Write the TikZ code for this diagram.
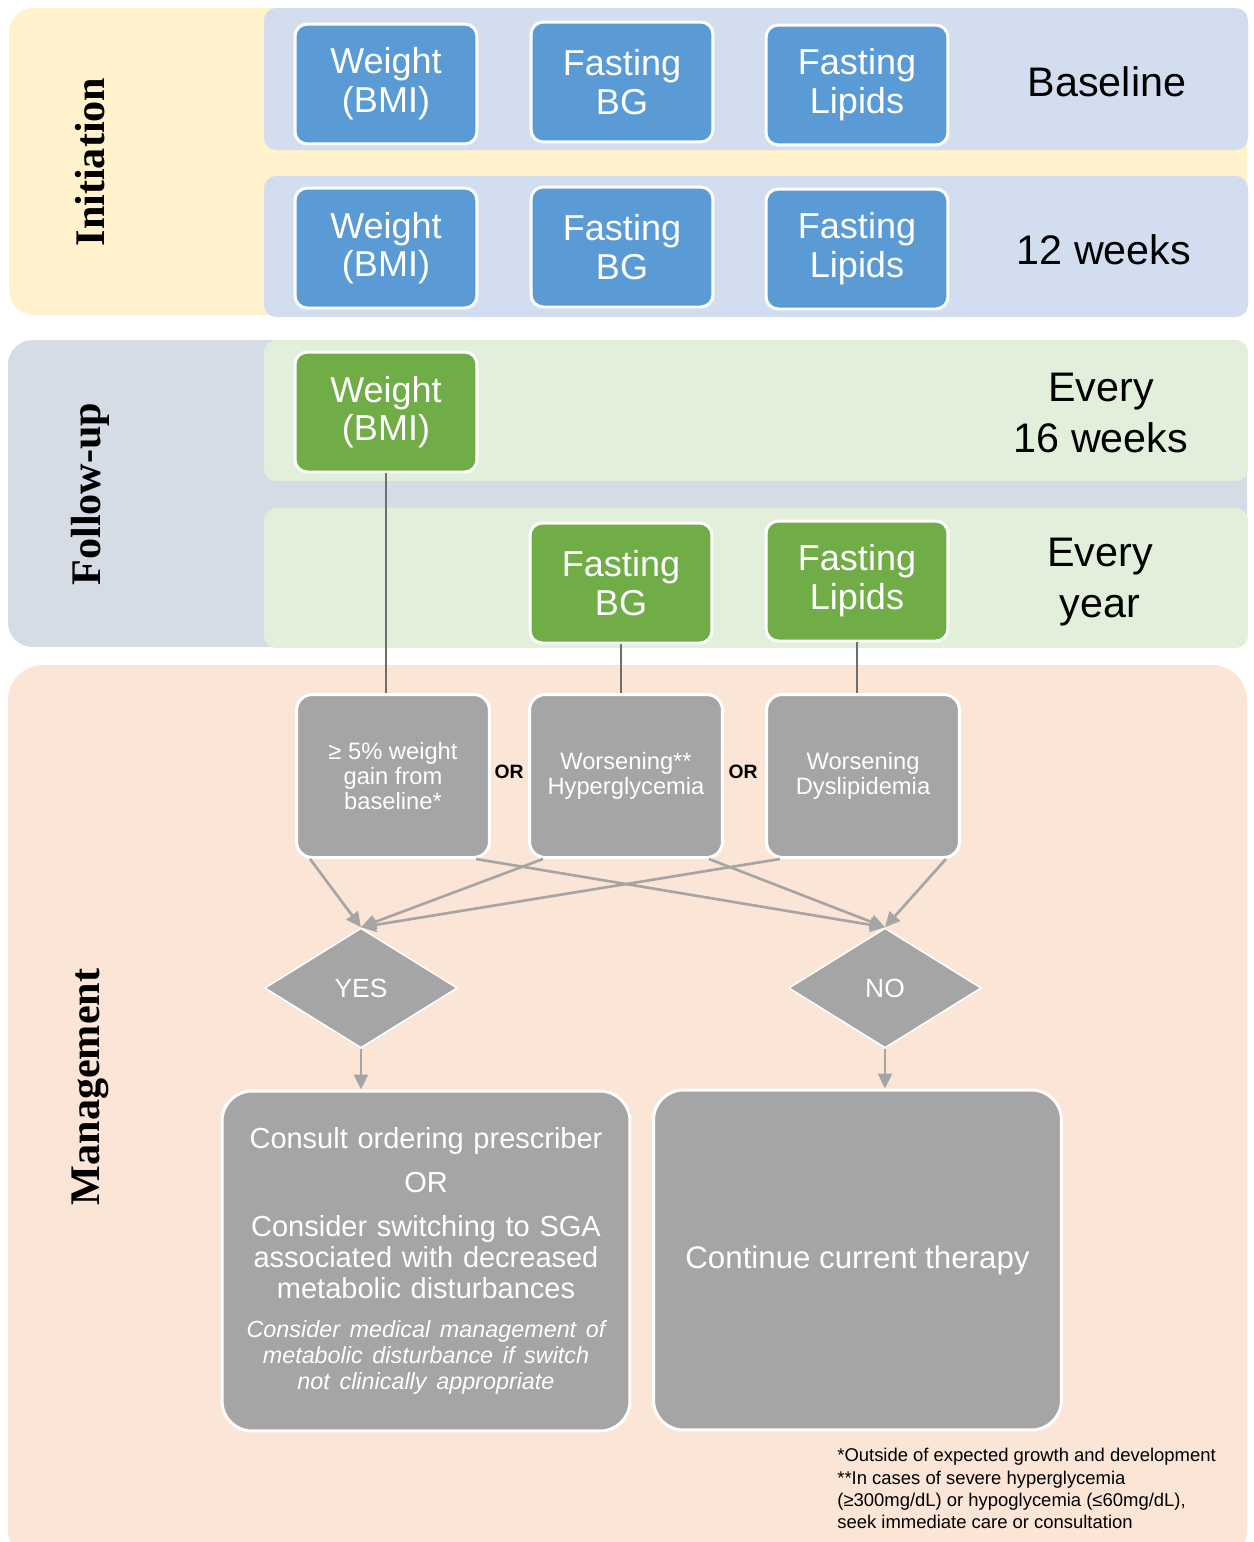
\documentclass[tikz,border=0pt]{standalone}
\usepackage{fontspec}
\setmainfont{Liberation Sans}
\newfontfamily\stagefont{Liberation Serif}
\usetikzlibrary{arrows.meta,shapes.geometric}

\definecolor{initYellow}{RGB}{255,242,204}
\definecolor{initBand}{RGB}{210,222,239}
\definecolor{followGray}{RGB}{214,220,229}
\definecolor{followBand}{RGB}{226,239,218}
\definecolor{manageSkin}{RGB}{251,229,214}
\definecolor{boxBlue}{RGB}{91,155,213}
\definecolor{boxGreen}{RGB}{112,173,71}
\definecolor{boxGray}{RGB}{165,165,165}
\definecolor{lineGray}{RGB}{110,110,110}

% one coloured band of a stage (top, bottom, colour)
\newcommand{\stageBand}[3]{%
  \fill[#3, rounded corners=7pt] (264, #1) rectangle (1248, #2);
}

\tikzset{
  testbox/.style={draw=white, line width=1.7pt, rounded corners=7pt,
    minimum width=3.64cm, minimum height=2.4cm, inner sep=2pt,
    text=white, align=center, font=\fontsize{20.5}{22}\selectfont},
  bluetest/.style={testbox, fill=boxBlue},
  greentest/.style={testbox, fill=boxGreen},
  outcome/.style={testbox, fill=boxGray, rounded corners=9pt,
    minimum width=3.86cm, minimum height=3.26cm,
    font=\fontsize{13.5}{14.5}\selectfont},
  decision/.style={diamond, draw=white, line width=0.9pt, fill=boxGray,
    minimum width=3.86cm, minimum height=2.4cm, inner sep=0pt,
    text=white, font=\fontsize{15}{17}\selectfont},
  actionbox/.style={testbox, fill=boxGray, rounded corners=17pt,
    minimum width=8.16cm, minimum height=6.8cm,
    font=\fontsize{16.5}{17.9}\selectfont},
  intervaltext/.style={align=center, font=\fontsize{23.5}{29.5}\selectfont},
  stage/.style={rotate=90, font=\stagefont\bfseries\fontsize{24}{28}\selectfont},
  orlabel/.style={font=\bfseries\fontsize{11}{13}\selectfont},
  feed/.style={draw=lineGray, line width=1.1pt},
  flow/.style={draw=boxGray, line width=1.5pt, -{Triangle[length=8.5pt,width=8pt]}},
}

\begin{document}
\begin{tikzpicture}[x=0.02cm, y=-0.02cm]
  \useasboundingbox (0,0) rectangle (1254,1542);

  % Stage panels
  \fill[initYellow, rounded corners=14pt] (9,8) rectangle (1247,315);
  \stageBand{8}{150}{initBand}
  \stageBand{176}{317}{initBand}
  \fill[followGray, rounded corners=14pt] (8,340) rectangle (1247,647);
  \stageBand{340}{481}{followBand}
  \stageBand{508}{648}{followBand}
  \begin{scope}
    \clip (0,0) rectangle (1254,1542);
    \fill[manageSkin, rounded corners=20pt] (8,665) rectangle (1247,1565);
  \end{scope}

  \node[stage] (init) at (90,162) {Initiation};
  \node[stage] (follow) at (90,494) {Follow-up};
  \node[stage] (manage) at (90,1087) {Management};

  % Initiation tests
  \node[bluetest] (wA) at (386,84) {Weight\\(BMI)};
  \node[bluetest] (bgA) at (622,82) {Fasting\\BG};
  \node[bluetest] (lpA) at (857,85) {Fasting\\Lipids};
  \node[intervaltext] (base) at (1107,82) {Baseline};

  \node[bluetest] (wB) at (386,248) {Weight\\(BMI)};
  \node[bluetest] (bgB) at (622,247) {Fasting\\BG};
  \node[bluetest] (lpB) at (857,249) {Fasting\\Lipids};
  \node[intervaltext] (twelve) at (1104,250) {12 weeks};

  % Follow-up tests
  \node[greentest] (wC) at (386,412) {Weight\\(BMI)};
  \node[intervaltext] (sixteen) at (1101,413) {Every\\16 weeks};

  \node[greentest] (bgD) at (621,583) {Fasting\\BG};
  \node[greentest] (lpD) at (857,581) {Fasting\\Lipids};
  \node[intervaltext] (year) at (1100,582) {Every\\year};

  % Management
  \node[outcome] (g1) at (393,776) {≥ 5\% weight\\gain from\\baseline*};
  \node[outcome] (g2) at (626,776) {Worsening**\\Hyperglycemia};
  \node[outcome] (g3) at (863,776) {Worsening\\Dyslipidemia};
  \node[orlabel] (or1) at (509,772) {OR};
  \node[orlabel] (or2) at (743,772) {OR};

  \node[decision] (yes) at (361,988) {YES};
  \node[decision] (no) at (885,988) {NO};

  \node[actionbox, text width=7.7cm] (act) at (426,1261)
    {Consult ordering prescriber\\[7pt]OR\\[7pt]Consider switching to SGA\\associated with decreased\\metabolic disturbances\par
     \vspace{7.5pt}{\centering\fontsize{13.3}{14.7}\selectfont\itshape Consider medical management of\\metabolic disturbance if switch\\not clinically appropriate\par}};
  \node[actionbox, font=\fontsize{17.8}{20}\selectfont] (keep) at (857.5,1260) {Continue current therapy};

  \node[anchor=north west, align=left, inner sep=0pt,
    font=\fontsize{10.5}{12.75}\selectfont] (note) at (837,1448)
    {*Outside of expected growth and development\\**In cases of severe hyperglycemia\\(≥300mg/dL) or hypoglycemia (≤60mg/dL),\\seek immediate care or consultation};

  % Connectors
  \draw[feed] (wC.south) -- (wC.south |- g1.north);
  \draw[feed] (bgD.south) -- (bgD.south |- g2.north);
  \draw[feed] (lpD.south) -- (lpD.south |- g3.north);

  \draw[flow] (g1.225) -- (yes.north);
  \draw[flow] (g1.-45) -- (no.north);
  \draw[flow] (g2.225) -- (yes.north);
  \draw[flow] (g2.-45) -- (no.north);
  \draw[flow] (g3.225) -- (yes.north);
  \draw[flow] (g3.-45) -- (no.north);

  \draw[flow, line width=1pt] (yes.south) -- (yes.south |- act.north);
  \draw[flow, line width=1pt] (no.south) -- (no.south |- keep.north);
\end{tikzpicture}
\end{document}
